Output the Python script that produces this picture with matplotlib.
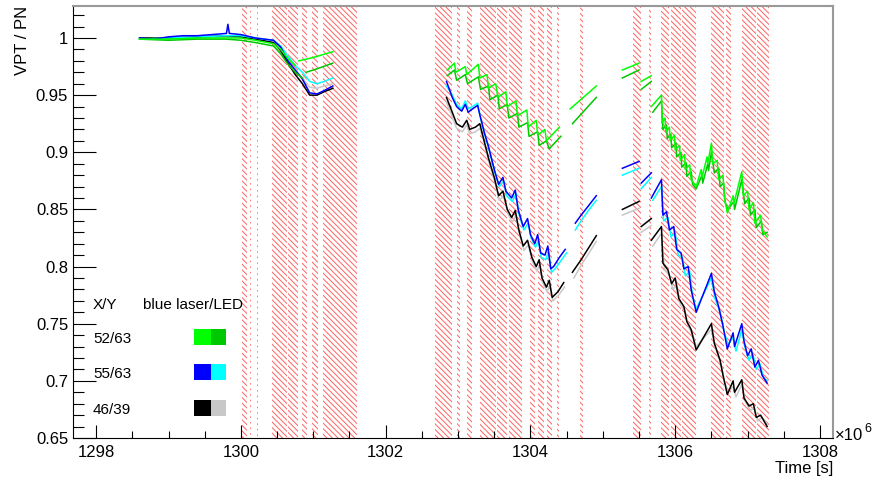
import numpy as np
import matplotlib
matplotlib.use("Agg")
import matplotlib.pyplot as plt
from matplotlib.ticker import FixedLocator, MultipleLocator, FuncFormatter
from matplotlib.patches import Rectangle

nan = np.nan

# time in units of 1e6 s
# --- hatched periods (start, end) ---
band_start = [1300.01, 1300.12, 1300.22, 1300.43, 1300.65, 1300.84, 1300.98, 1301.13,
              1302.68, 1302.98, 1303.13, 1303.30, 1303.54, 1303.71, 1303.82, 1303.99,
              1304.10, 1304.23, 1304.37, 1304.68,
              1305.41, 1305.64, 1305.81, 1305.94, 1306.10, 1306.50, 1306.70, 1306.92, 1307.13]
band_end = [1300.08, 1300.14, 1300.23, 1300.63, 1300.79, 1300.91, 1301.06, 1301.60,
            1302.92, 1303.02, 1303.19, 1303.53, 1303.68, 1303.81, 1303.88, 1304.06,
            1304.19, 1304.30, 1304.40, 1304.72,
            1305.53, 1305.67, 1305.92, 1306.08, 1306.29, 1306.68, 1306.77, 1307.12, 1307.30]

# --- 55/63 blue laser ---
blue_x = [1298.60, 1298.80, 1299.00, 1299.20, 1299.40, 1299.60, 1299.80, 1299.82, 1299.84, 1300.00, 1300.20,
          1300.45, 1300.55, 1300.65, 1300.75, 1300.85, 1300.95, 1301.05, 1301.15, 1301.27, nan,
          1302.84, 1302.92, 1302.98, 1303.05, 1303.10, 1303.14, 1303.20, 1303.27, 1303.30, 1303.36, 1303.42,
          1303.50, 1303.56, 1303.62, 1303.66, 1303.74, 1303.79, 1303.83, 1303.90, 1303.96, 1304.00, 1304.06,
          1304.10, 1304.14, 1304.20, 1304.24, 1304.28, 1304.32, 1304.40, 1304.48, nan,
          1304.62, 1304.70, 1304.80, 1304.91, nan,
          1305.27, 1305.50, nan, 1305.53, 1305.67, nan, 1305.67, 1305.81, 1305.83, 1305.88, 1305.92, 1305.98,
          1306.02, 1306.08, 1306.12, 1306.18, 1306.22, 1306.29, 1306.50, 1306.54, 1306.60, 1306.66, 1306.72,
          1306.80, 1306.82, 1306.92, 1306.95, 1307.00, 1307.05, 1307.10, 1307.15, 1307.20, 1307.27]
blue_y = [1.000, 0.999, 1.001, 1.002, 1.002, 1.003, 1.004, 1.012, 1.004, 1.003, 1.000,
          0.998, 0.992, 0.980, 0.972, 0.964, 0.952, 0.951, 0.954, 0.958, nan,
          0.962, 0.948, 0.940, 0.936, 0.942, 0.935, 0.938, 0.941, 0.933, 0.918, 0.905,
          0.885, 0.872, 0.878, 0.866, 0.860, 0.867, 0.850, 0.835, 0.842, 0.828, 0.820,
          0.828, 0.812, 0.810, 0.818, 0.798, 0.800, 0.808, 0.815, nan,
          0.838, 0.845, 0.853, 0.862, nan,
          0.886, 0.892, nan, 0.873, 0.882, nan, 0.860, 0.876, 0.845, 0.848, 0.832, 0.835,
          0.815, 0.812, 0.798, 0.800, 0.780, 0.760, 0.794, 0.778, 0.765, 0.748, 0.728,
          0.742, 0.730, 0.750, 0.735, 0.722, 0.728, 0.712, 0.718, 0.705, 0.698]

# --- 55/63 LED ---
cyan_x = [1298.60, 1299.00, 1299.40, 1299.80, 1300.00, 1300.20, 1300.45, 1300.55, 1300.65, 1300.75,
          1300.85, 1300.95, 1301.05, 1301.15, 1301.27, nan,
          1302.84, 1302.92, 1302.98, 1303.05, 1303.10, 1303.14, 1303.20, 1303.27, 1303.31, 1303.37, 1303.43,
          1303.51, 1303.57, 1303.63, 1303.67, 1303.75, 1303.80, 1303.84, 1303.91, 1303.97, 1304.01, 1304.07,
          1304.11, 1304.15, 1304.21, 1304.25, 1304.29, 1304.34, 1304.42, 1304.50, nan,
          1304.62, 1304.70, 1304.80, 1304.91, nan,
          1305.27, 1305.50, nan, 1305.53, 1305.67, nan, 1305.69, 1305.81, 1305.84, 1305.90, 1305.94, 1306.00,
          1306.04, 1306.10, 1306.14, 1306.20, 1306.24, 1306.29, 1306.50, 1306.55, 1306.62, 1306.68, 1306.73,
          1306.80, 1306.84, 1306.92, 1306.96, 1307.02, 1307.07, 1307.12, 1307.17, 1307.22, 1307.27]
cyan_y = [0.999, 1.000, 1.001, 1.002, 1.002, 1.000, 0.998, 0.993, 0.984, 0.976,
          0.970, 0.962, 0.960, 0.962, 0.965, nan,
          0.958, 0.950, 0.942, 0.938, 0.945, 0.938, 0.940, 0.943, 0.930, 0.915, 0.902,
          0.882, 0.870, 0.875, 0.862, 0.857, 0.864, 0.846, 0.832, 0.838, 0.825, 0.817,
          0.823, 0.808, 0.806, 0.813, 0.795, 0.798, 0.805, 0.812, nan,
          0.832, 0.840, 0.849, 0.858, nan,
          0.880, 0.886, nan, 0.868, 0.878, nan, 0.858, 0.870, 0.840, 0.843, 0.826, 0.830,
          0.810, 0.808, 0.792, 0.796, 0.774, 0.763, 0.790, 0.772, 0.760, 0.742, 0.732,
          0.738, 0.726, 0.745, 0.730, 0.718, 0.724, 0.710, 0.715, 0.703, 0.700]

# --- 46/39 blue laser ---
black_x = [1298.60, 1299.00, 1299.40, 1299.80, 1300.00, 1300.20, 1300.45, 1300.55, 1300.65, 1300.75,
           1300.85, 1300.95, 1301.05, 1301.15, 1301.27, nan,
           1302.84, 1302.92, 1302.98, 1303.06, 1303.12, 1303.16, 1303.24, 1303.30, 1303.34, 1303.42, 1303.50,
           1303.56, 1303.62, 1303.68, 1303.74, 1303.79, 1303.84, 1303.90, 1303.96, 1304.02, 1304.08, 1304.12,
           1304.16, 1304.22, 1304.26, 1304.30, 1304.38, 1304.46, nan,
           1304.58, 1304.70, 1304.80, 1304.91, nan,
           1305.27, 1305.50, nan, 1305.53, 1305.67, nan, 1305.67, 1305.81, 1305.83, 1305.90, 1305.95, 1306.00,
           1306.05, 1306.12, 1306.16, 1306.22, 1306.29, 1306.50, 1306.54, 1306.62, 1306.66, 1306.72, 1306.80,
           1306.82, 1306.92, 1306.95, 1307.02, 1307.08, 1307.12, 1307.18, 1307.27]
black_y = [1.000, 1.000, 1.001, 1.002, 1.001, 0.999, 0.996, 0.989, 0.978, 0.968,
           0.960, 0.950, 0.950, 0.953, 0.956, nan,
           0.948, 0.935, 0.925, 0.922, 0.928, 0.920, 0.922, 0.925, 0.915, 0.895, 0.878,
           0.862, 0.866, 0.850, 0.843, 0.849, 0.832, 0.818, 0.823, 0.808, 0.800, 0.806,
           0.790, 0.782, 0.788, 0.773, 0.778, 0.786, nan,
           0.795, 0.806, 0.816, 0.827, nan,
           0.850, 0.857, nan, 0.835, 0.842, nan, 0.823, 0.835, 0.803, 0.797, 0.785, 0.790,
           0.772, 0.765, 0.752, 0.745, 0.727, 0.750, 0.733, 0.718, 0.705, 0.688, 0.700,
           0.690, 0.701, 0.685, 0.678, 0.680, 0.668, 0.670, 0.660]

# --- 46/39 LED ---
gray_x = [1298.60, 1299.00, 1299.40, 1299.80, 1300.00, 1300.20, 1300.45, 1300.55, 1300.65, 1300.75,
          1300.85, 1300.95, 1301.05, 1301.15, 1301.27, nan,
          1302.84, 1302.92, 1302.98, 1303.06, 1303.12, 1303.16, 1303.24, 1303.30, 1303.35, 1303.43, 1303.51,
          1303.57, 1303.63, 1303.69, 1303.75, 1303.80, 1303.85, 1303.91, 1303.97, 1304.03, 1304.09, 1304.13,
          1304.17, 1304.23, 1304.27, 1304.31, 1304.39, 1304.47, nan,
          1304.60, 1304.70, 1304.80, 1304.91, nan,
          1305.27, 1305.50, nan, 1305.53, 1305.67, nan, 1305.69, 1305.81, 1305.85, 1305.92, 1305.97, 1306.02,
          1306.07, 1306.14, 1306.18, 1306.24, 1306.29, 1306.50, 1306.56, 1306.64, 1306.68, 1306.73, 1306.80,
          1306.84, 1306.92, 1306.97, 1307.04, 1307.09, 1307.14, 1307.20, 1307.27]
gray_y = [0.999, 1.000, 1.000, 1.001, 1.001, 0.999, 0.996, 0.990, 0.980, 0.972,
          0.965, 0.957, 0.956, 0.958, 0.960, nan,
          0.944, 0.931, 0.921, 0.918, 0.924, 0.916, 0.918, 0.921, 0.911, 0.891, 0.874,
          0.858, 0.862, 0.846, 0.839, 0.845, 0.828, 0.814, 0.819, 0.804, 0.796, 0.802,
          0.786, 0.778, 0.784, 0.770, 0.775, 0.782, nan,
          0.790, 0.801, 0.811, 0.822, nan,
          0.845, 0.851, nan, 0.830, 0.836, nan, 0.818, 0.829, 0.798, 0.792, 0.780, 0.784,
          0.767, 0.760, 0.748, 0.740, 0.730, 0.745, 0.728, 0.713, 0.700, 0.690, 0.695,
          0.686, 0.697, 0.682, 0.674, 0.677, 0.665, 0.668, 0.662]

# --- 52/63 blue laser ---
green_x = [1298.60, 1299.00, 1299.40, 1299.80, 1300.00, 1300.20, 1300.45, 1300.55, 1300.65, 1300.75, nan,
           1300.80, 1301.00, 1301.27, nan,
           1302.85, 1302.95, 1302.97, 1303.10, 1303.12, 1303.28, 1303.30, 1303.40, 1303.42, 1303.52, 1303.55,
           1303.66, 1303.68, 1303.80, 1303.82, 1303.95, 1303.97, 1304.08, 1304.10, 1304.20, 1304.22, 1304.40, nan,
           1304.55, 1304.91, nan,
           1305.27, 1305.50, nan, 1305.53, 1305.67, nan, 1305.67, 1305.81, 1305.82, 1305.86, 1305.87, 1305.92,
           1305.93, 1305.99, 1306.00, 1306.06, 1306.07, 1306.13, 1306.14, 1306.20, 1306.22, 1306.29, 1306.36,
           1306.37, 1306.44, 1306.45, 1306.50, 1306.52, 1306.58, 1306.60, 1306.66, 1306.68, 1306.72, 1306.80,
           1306.81, 1306.92, 1306.94, 1307.00, 1307.02, 1307.08, 1307.10, 1307.18, 1307.20, 1307.27]
green_y = [0.999, 0.999, 1.000, 1.000, 1.000, 0.998, 0.995, 0.990, 0.982, 0.976, nan,
           0.980, 0.983, 0.988, nan,
           0.972, 0.978, 0.970, 0.975, 0.968, 0.977, 0.965, 0.968, 0.956, 0.960, 0.948,
           0.953, 0.940, 0.945, 0.932, 0.937, 0.922, 0.928, 0.915, 0.920, 0.910, 0.922, nan,
           0.938, 0.958, nan,
           0.972, 0.978, nan, 0.962, 0.967, nan, 0.940, 0.950, 0.926, 0.930, 0.918, 0.922,
           0.910, 0.915, 0.902, 0.906, 0.893, 0.898, 0.885, 0.889, 0.876, 0.870, 0.885,
           0.878, 0.896, 0.890, 0.908, 0.890, 0.893, 0.876, 0.880, 0.860, 0.847, 0.862,
           0.855, 0.883, 0.862, 0.866, 0.850, 0.856, 0.838, 0.845, 0.832, 0.826]

# --- 52/63 LED ---
dgreen_x = [1298.60, 1299.00, 1299.40, 1299.80, 1300.00, 1300.20, 1300.45, 1300.55, 1300.65, 1300.75, 1300.85, nan,
            1300.90, 1301.05, 1301.27, nan,
            1302.85, 1302.95, 1302.98, 1303.10, 1303.13, 1303.28, 1303.31, 1303.42, 1303.44, 1303.55, 1303.57,
            1303.68, 1303.70, 1303.82, 1303.84, 1303.96, 1303.98, 1304.10, 1304.12, 1304.22, 1304.26, 1304.42, nan,
            1304.58, 1304.91, nan,
            1305.27, 1305.50, nan, 1305.53, 1305.67, nan, 1305.69, 1305.81, 1305.83, 1305.88, 1305.89, 1305.94,
            1305.95, 1306.01, 1306.02, 1306.08, 1306.09, 1306.15, 1306.16, 1306.22, 1306.24, 1306.29, 1306.37,
            1306.38, 1306.45, 1306.46, 1306.50, 1306.54, 1306.60, 1306.62, 1306.67, 1306.69, 1306.73, 1306.81,
            1306.82, 1306.92, 1306.96, 1307.02, 1307.04, 1307.10, 1307.12, 1307.19, 1307.21, 1307.27]
dgreen_y = [0.999, 0.998, 0.999, 0.999, 0.998, 0.996, 0.993, 0.986, 0.977, 0.970, 0.965, nan,
            0.970, 0.973, 0.978, nan,
            0.967, 0.972, 0.963, 0.968, 0.960, 0.966, 0.955, 0.958, 0.946, 0.950, 0.938,
            0.942, 0.930, 0.934, 0.922, 0.926, 0.914, 0.918, 0.906, 0.910, 0.903, 0.914, nan,
            0.925, 0.948, nan,
            0.965, 0.972, nan, 0.955, 0.962, nan, 0.935, 0.945, 0.920, 0.924, 0.912, 0.916,
            0.904, 0.908, 0.896, 0.900, 0.887, 0.891, 0.879, 0.883, 0.872, 0.868, 0.880,
            0.873, 0.890, 0.884, 0.900, 0.882, 0.886, 0.870, 0.873, 0.856, 0.850, 0.857,
            0.850, 0.876, 0.855, 0.860, 0.845, 0.850, 0.834, 0.840, 0.828, 0.830]

x_ticks = [1298, 1300, 1302, 1304, 1306, 1308]
y_ticks = [0.65, 0.7, 0.75, 0.8, 0.85, 0.9, 0.95, 1.0]

legend_rows = ["52/63", "55/63", "46/39"]
legend_colors = [("#00ff00", "#00c800"), ("#0000ff", "#00ffff"), ("#000000", "#c8c8c8")]

plt.rcParams['font.family'] = ['Liberation Sans', 'DejaVu Sans']
plt.rcParams['hatch.linewidth'] = 0.7

fig = plt.figure(figsize=(8.75, 4.8), dpi=100)
W, H = 875, 480
ax = fig.add_axes([73 / W, 1 - 438 / H, (833 - 73) / W, (438 - 6) / H])

# hatched periods
for x0, x1 in zip(band_start, band_end):
    ax.axvspan(x0, x1, facecolor='none', edgecolor='#ff6262', hatch='\\' * 6, lw=0, zorder=1)

series = [(gray_x, gray_y, '#c8c8c8'), (black_x, black_y, '#000000'),
          (cyan_x, cyan_y, '#00ffff'), (blue_x, blue_y, '#0000ff'),
          (dgreen_x, dgreen_y, '#00c800'), (green_x, green_y, '#00ff00')]
for xs, ys, c in series:
    ax.plot(xs, ys, color=c, lw=1.1, zorder=3)

ax.set_xlim(1297.68, 1308.18)
ax.set_ylim(0.65, 1.028)
ax.xaxis.set_major_locator(FixedLocator(x_ticks))
ax.xaxis.set_minor_locator(MultipleLocator(0.5))
ax.yaxis.set_major_locator(FixedLocator(y_ticks))
ax.yaxis.set_minor_locator(MultipleLocator(0.01))
ax.xaxis.set_major_formatter(FuncFormatter(lambda v, p: f"{v:g}"))
ax.yaxis.set_major_formatter(FuncFormatter(lambda v, p: f"{v:g}"))

ax.tick_params(axis='x', which='major', direction='in', length=9.5, width=0.8, labelsize=12, pad=5, top=False)
ax.tick_params(axis='x', which='minor', direction='in', length=5, width=0.8, top=False)
ax.tick_params(axis='y', which='major', direction='in', length=16.5, width=0.8, labelsize=12, pad=3.5, right=False)
ax.tick_params(axis='y', which='minor', direction='in', length=8, width=0.8, right=False)

for s in ['top', 'right']:
    ax.spines[s].set_color('#999999')
    ax.spines[s].set_linewidth(1.5)
for s in ['left', 'bottom']:
    ax.spines[s].set_color('black')
    ax.spines[s].set_linewidth(0.8)

ax.set_ylabel("VPT / PN", fontsize=12, loc='top', labelpad=4)
ax.set_xlabel("Time [s]", fontsize=12, loc='right', labelpad=1)

fig.text(835 / W, 1 - 440 / H, "\u00d710", fontsize=12, ha='left', va='baseline')
fig.text(864 / W, 1 - 432 / H, "6", fontsize=9, ha='left', va='baseline')

# legend
fig.text(93 / W, 1 - 305 / H, "X/Y", fontsize=11, ha='left', va='center')
fig.text(143 / W, 1 - 305 / H, "blue laser/LED", fontsize=11, ha='left', va='center')
row_y = [337, 372, 408]
for lbl, (c1, c2), yy in zip(legend_rows, legend_colors, row_y):
    fig.text(93 / W, 1 - (yy + 2) / H, lbl, fontsize=11, ha='left', va='center')
    fig.patches.append(Rectangle((194 / W, 1 - (yy + 8) / H), 17 / W, 16 / H, transform=fig.transFigure,
                                 facecolor=c1, edgecolor='none', zorder=5))
    fig.patches.append(Rectangle((211 / W, 1 - (yy + 8) / H), 15 / W, 16 / H, transform=fig.transFigure,
                                 facecolor=c2, edgecolor='none', zorder=5))

fig.savefig("out.png", dpi=100)
